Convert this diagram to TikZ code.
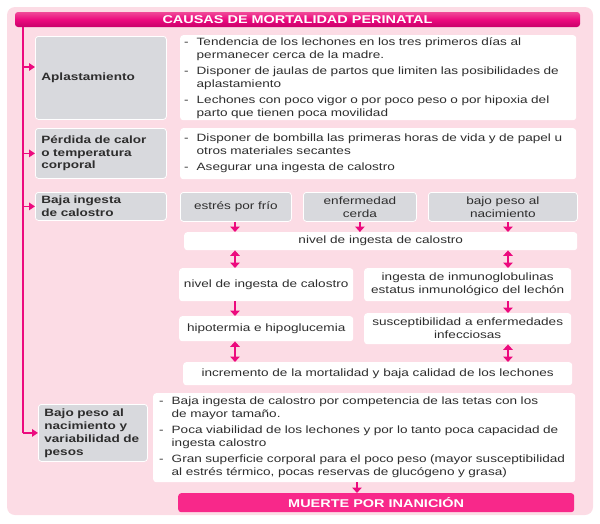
\documentclass[tikz,border=0pt]{standalone}
\usepackage{fontspec}
\setmainfont{Liberation Sans}[FakeStretch=1.28]
\usetikzlibrary{arrows.meta,calc}
\definecolor{bgpink}{HTML}{FCDCE5}
\definecolor{mag}{HTML}{EC0A7E}
\definecolor{titletop}{HTML}{F04A98}
\definecolor{titlebot}{HTML}{C8006A}
\definecolor{muerte}{HTML}{F8288A}
\definecolor{boxgray}{HTML}{D8D9DD}
\definecolor{txt}{HTML}{2E2E2E}
\newcommand\bitem[1]{\makebox[12.5pt][l]{-}\mbox{#1}}
\newcommand\bcont[1]{\hspace*{12.5pt}\mbox{#1}}
\begin{document}
\begin{tikzpicture}[x=1pt,y=-1pt,
  lbl/.style={fill=boxgray, draw=white, line width=0.8pt, rounded corners=3pt, anchor=north west,
    inner xsep=6pt, inner ysep=0pt, align=left, text=txt,
    font=\bfseries\fontsize{10.6}{12.5}\selectfont},
  wbox/.style={fill=white, rounded corners=3pt, anchor=north west,
    inner xsep=4pt, inner ysep=0pt, align=left, text=txt,
    font=\fontsize{10.6}{13}\selectfont},
  cbox/.style={fill=white, rounded corners=3pt, anchor=north west,
    inner sep=0pt, align=center, text=txt,
    font=\fontsize{10.6}{13}\selectfont},
  gbox/.style={cbox, fill=boxgray, draw=white, line width=0.8pt},
  headbar/.style={rounded corners=3pt, inner sep=0pt, text=white,
    font=\bfseries\fontsize{11.3}{13}\selectfont},
  trunkline/.style={draw=mag, line width=1.4pt},
  branch/.style={draw=mag, line width=1.4pt, -{Triangle[width=7.5pt,length=6pt]}},
  arr/.style={draw=mag, line width=2.2pt, -{Triangle[width=9.5pt,length=5.5pt]}},
  dbl/.style={draw=mag, line width=2.2pt, {Triangle[width=9.5pt,length=5.5pt]}-{Triangle[width=9.5pt,length=5.5pt]}}
]
\useasboundingbox (0,0) rectangle (600,523);
\fill[bgpink, rounded corners=8pt] (7,7) rectangle (593,515);

% title
\node[headbar, top color=titletop, bottom color=titlebot, middle color=mag,
      minimum width=565pt, minimum height=15pt] (title) at (297.5,19.5)
      {CAUSAS DE MORTALIDAD PERINATAL};

% left labels
\node[lbl, text width=119pt, minimum height=83pt] (aplast) at (35,36) {Aplastamiento};
\node[lbl, text width=119pt, minimum height=50pt] (perdida) at (35,128)
  {Pérdida de calor\\o temperatura\\corporal};
\node[lbl, text width=119pt, minimum height=28pt] (baja) at (35,192)
  {Baja ingesta\\de calostro};
\node[lbl, text width=97pt, minimum height=57pt, font=\bfseries\fontsize{10.6}{13}\selectfont] (bajopeso) at (38,404)
  {Bajo peso al\\nacimiento y\\variabilidad de\\pesos};

% bullet boxes
\node[wbox, text width=388pt, minimum height=85pt] (box1) at (180,35)
  {\bitem{Tendencia de los lechones en los tres primeros días al}\\
   \bcont{permanecer cerca de la madre.}\\[3pt]
   \bitem{Disponer de jaulas de partos que limiten las posibilidades de}\\
   \bcont{aplastamiento}\\[3pt]
   \bitem{Lechones con poco vigor o por poco peso o por hipoxia del}\\
   \bcont{parto que tienen poca movilidad}};
\node[wbox, text width=388pt, minimum height=51pt] (box2) at (180,128)
  {\bitem{Disponer de bombilla las primeras horas de vida y de papel u}\\
   \bcont{otros materiales secantes}\\[3pt]
   \bitem{Asegurar una ingesta de calostro}};
\node[wbox, inner xsep=6pt, text width=410pt, minimum height=89pt] (box4) at (153,393)
  {\bitem{Baja ingesta de calostro por competencia de las tetas con los}\\
   \bcont{de mayor tamaño.}\\[3pt]
   \bitem{Poca viabilidad de los lechones y por lo tanto poca capacidad de}\\
   \bcont{ingesta calostro}\\[3pt]
   \bitem{Gran superficie corporal para el poco peso (mayor susceptibilidad}\\
   \bcont{al estrés térmico, pocas reservas de glucógeno y grasa)}};

% calostro flow
\node[gbox, minimum width=111pt, minimum height=29pt] (estres) at (180,192) {estrés por frío};
\node[gbox, minimum width=113pt, minimum height=29pt] (enferm) at (303,192) {enfermedad\\cerda};
\node[gbox, minimum width=149pt, minimum height=29pt] (bajonac) at (428,192) {bajo peso al\\nacimiento};
\node[cbox, minimum width=393pt, minimum height=18pt] (nivelA) at (184,232) {nivel de ingesta de calostro};
\node[cbox, minimum width=174pt, minimum height=33pt] (nivelB) at (179,268) {nivel de ingesta de calostro};
\node[cbox, minimum width=207pt, minimum height=33pt] (inmuno) at (364,268)
  {ingesta de inmunoglobulinas\\estatus inmunológico del lechón};
\node[cbox, minimum width=174pt, minimum height=25pt] (hipo) at (179,316) {hipotermia e hipoglucemia};
\node[cbox, minimum width=207pt, minimum height=31pt] (suscep) at (364,313)
  {susceptibilidad a enfermedades\\infecciosas};
\node[cbox, minimum width=389pt, minimum height=23pt] (increm) at (183,362)
  {incremento de la mortalidad y baja calidad de los lechones};

% final bar
\node[headbar, fill=muerte, anchor=north west, minimum width=396pt, minimum height=19pt] (muerteN) at (178,493)
  {MUERTE POR INANICIÓN};

% trunk and branches
\coordinate (trunk) at (23,27);
\coordinate (colL) at (235,0);
\coordinate (colR) at (508,0);
\coordinate (colM) at (357,0);
\coordinate (aplin) at ([yshift=-31pt]aplast.north west);
\draw[trunkline] (trunk) -- (trunk |- bajopeso.west);
\draw[branch] (trunk |- bajopeso.west) -- (bajopeso.west);
\draw[branch] (trunk |- aplin) -- (aplin);
\draw[branch] (trunk |- perdida.west) -- (perdida.west);
\draw[branch] (trunk |- baja.west) -- (baja.west);

% flow arrows
\draw[arr] (estres.south -| colL) -- (nivelA.north -| colL);
\draw[arr] (enferm.south) -- (nivelA.north -| enferm.south);
\draw[arr] (bajonac.south -| colR) -- (nivelA.north -| colR);
\draw[dbl] (nivelA.south -| colL) -- (nivelB.north -| colL);
\draw[dbl] (nivelA.south -| colR) -- (inmuno.north -| colR);
\draw[arr] (nivelB.south -| colL) -- (hipo.north -| colL);
\draw[arr] (inmuno.south -| colR) -- (suscep.north -| colR);
\draw[dbl] (hipo.south -| colL) -- (increm.north -| colL);
\draw[dbl] (suscep.south -| colR) -- (increm.north -| colR);
\draw[arr] (box4.south -| colM) -- (muerteN.north -| colM);
\end{tikzpicture}
\end{document}
